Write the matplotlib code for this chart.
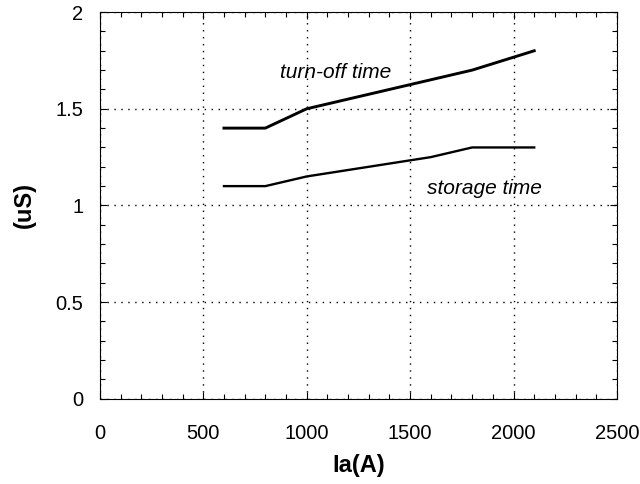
import matplotlib
matplotlib.use("Agg")
import matplotlib.pyplot as plt
from matplotlib.ticker import MultipleLocator

plt.rcParams['font.family'] = ['Liberation Sans', 'DejaVu Sans']

# anode current (A) vs switching times (us)
turnoff_ia = [600, 800, 1000, 1800, 2100]
turnoff_t = [1.4, 1.4, 1.5, 1.7, 1.8]
storage_ia = [600, 800, 1000, 1600, 1800, 2100]
storage_t = [1.1, 1.1, 1.15, 1.25, 1.3, 1.3]

fig = plt.figure(figsize=(6.4, 4.84), dpi=100)
ax = fig.add_axes([0.156, 0.176, 0.808, 0.799])

ax.plot(turnoff_ia, turnoff_t, color='black', lw=2.1)
ax.plot(storage_ia, storage_t, color='black', lw=1.7)

ax.text(1140, 1.69, 'turn-off time', style='italic', fontsize=15,
        ha='center', va='center')
ax.text(1860, 1.09, 'storage time', style='italic', fontsize=15,
        ha='center', va='center')

ax.set_xlim(0, 2500)
ax.set_ylim(0, 2)
ax.xaxis.set_major_locator(MultipleLocator(500))
ax.xaxis.set_minor_locator(MultipleLocator(100))
ax.yaxis.set_minor_locator(MultipleLocator(0.1))
ax.set_yticks([0, 0.5, 1, 1.5, 2])
ax.set_yticklabels(['0', '0.5', '1', '1.5', '2'])

ax.tick_params(which='both', direction='in', top=True, right=True,
               labelsize=14.5, width=0.8)
ax.tick_params(axis='x', which='major', pad=18)
ax.tick_params(axis='y', which='major', pad=12)
ax.tick_params(which='major', length=5)
ax.tick_params(which='minor', length=3.5)

ax.grid(True, which='major', color='black', linestyle=(0, (1, 4)), lw=1)
for s in ax.spines.values():
    s.set_linewidth(0.8)

ax.set_xlabel('Ia(A)', fontsize=17, fontweight='bold', labelpad=8)
ax.set_ylabel('(uS)', fontsize=17, fontweight='bold', labelpad=14)

fig.savefig('out.png', dpi=100)
